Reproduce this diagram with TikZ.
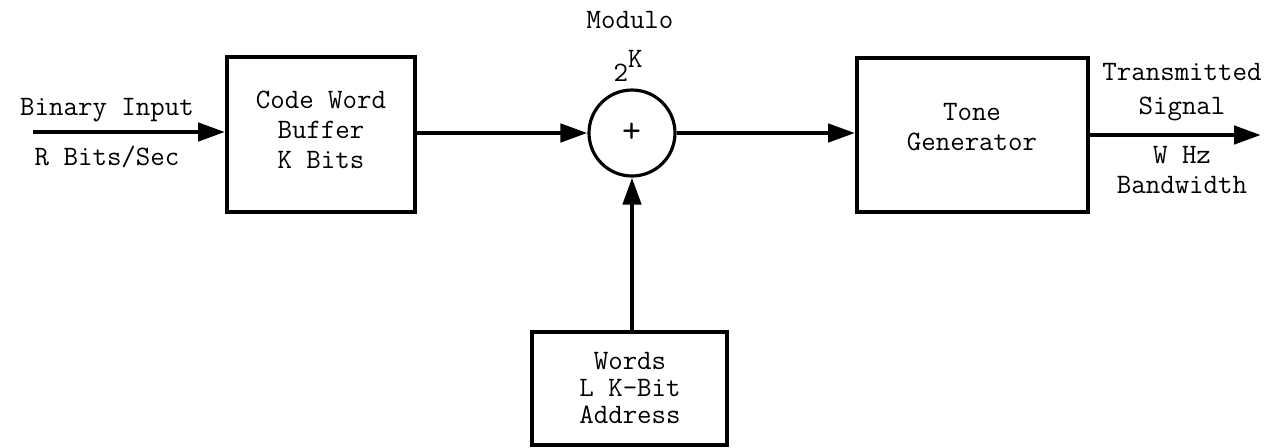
\documentclass[tikz,border=0pt]{standalone}
\usepackage{fontspec}
\usetikzlibrary{arrows.meta}
\begin{document}
\begin{tikzpicture}[x=0.02cm,y=-0.02cm,
  font=\ttfamily\fontsize{16}{17}\selectfont,
  blk/.style={draw,line width=2.2pt,inner sep=0pt},
  sig/.style={line width=2.6pt,-{Triangle[length=0.54cm,width=0.36cm]}},
  lbl/.style={inner sep=0pt,align=center}]
\useasboundingbox (0,0) rectangle (1272,447);

% blocks
\node[blk,minimum width=188*0.02cm,minimum height=155*0.02cm] (buf) at (321,134.5) {};
\node[blk,minimum width=231*0.02cm,minimum height=154*0.02cm] (tone) at (972.5,135) {};
\node[blk,minimum width=195*0.02cm,minimum height=113*0.02cm] (words) at (629.5,388.5) {};
\node[draw,circle,line width=1.8pt,minimum size=86*0.02cm,inner sep=0pt] (sum) at (632,133) {};

% block texts
\node[lbl] (buft) at (321,130) {Code Word\\Buffer\\K Bits};
\node[lbl] (tonet) at (972,127) {Tone\\Generator};
\node[lbl,font=\ttfamily\fontsize{16}{15.5}\selectfont] (wordst) at (630,388) {Words\\L K-Bit\\Address};
\node[lbl,font=\ttfamily\fontsize{21}{21}\selectfont] (plus) at (632,133) {+};

% labels
\node[lbl] (mod) at (630,20) {Modulo};
\node[lbl] (two) at (628,66) {2\raisebox{0.5em}{K}};
\node[lbl] (bin) at (107,110) {Binary Input};
\node[lbl] (rate) at (107,157) {R Bits/Sec};
\node[lbl] (tx) at (1182,92) {Transmitted\\[2pt]Signal};
\node[lbl] (bw) at (1182,170) {W Hz\\Bandwidth};

% connectors
\coordinate (in) at (33,132);
\coordinate (out) at (1261,135);
\draw[sig] (in) -- (buf.west |- in);
\draw[sig] (buf.east |- sum) -- (sum.west);
\draw[sig] (sum.east) -- (tone.west |- sum);
\draw[sig] (tone.east |- out) -- (out);
\draw[sig] (sum.south |- words.north) -- (sum.south);
\end{tikzpicture}
\end{document}
